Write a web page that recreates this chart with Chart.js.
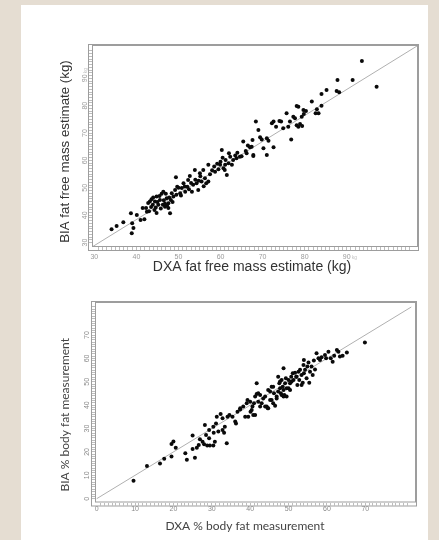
<!DOCTYPE html>
<html>
<head>
<meta charset="utf-8">
<script src="https://cdn.jsdelivr.net/npm/chart.js@4.4.1/dist/chart.umd.min.js"></script>
<style>
  html, body { margin: 0; padding: 0; width: 439px; height: 540px; overflow: hidden; background: #e5ddd2; }
  #panel { position: absolute; left: 21px; top: 5px; width: 407px; height: 535px; background: #fff; }
  #fat-free { position: absolute; left: 0; top: 0; }
  #body-fat { position: absolute; left: 0; top: 272px; }
</style>
</head>
<body>
<div id="panel">
  <canvas id="fat-free" width="407" height="272"></canvas>
  <canvas id="body-fat" width="407" height="263"></canvas>
</div>
<script>
// top panel: fat free mass (kg)
var fatFreeDxa = [
  34.1, 35.3, 36.9, 38.7, 39.0, 39.3, 38.9, 40.1, 41.0, 41.9, 41.5, 42.3, 42.5, 43.2, 43.6, 43.9, 44.3, 44.4,
  44.8, 45.2, 45.6, 46.0, 46.4, 46.3, 46.8, 47.2, 47.6, 48.0, 47.6, 48.2, 48.4, 48.8, 49.2, 49.4, 49.7, 50.4,
  50.8, 51.2, 51.6, 52.1, 52.3, 52.7, 53.2, 53.5, 53.9, 54.3, 54.7, 55.1, 55.5, 55.9, 56.3, 56.6, 57.1, 57.1,
  58.7, 59.5, 59.9, 60.3, 60.7, 61.1, 61.5, 61.9, 62.3, 62.7, 63.0, 63.8, 64.6, 65.4, 66.2, 67.4, 67.8,
  42.8, 43.5, 44.0, 45.0, 45.5, 46.5, 47.0, 47.8, 44.6, 45.8, 46.8, 43.0, 44.8, 47.3, 48.6, 49.5, 50.0, 50.6,
  51.5, 52.5, 53.0, 54.0, 54.8, 55.2, 56.0, 57.5, 58.0, 58.5, 59.2, 60.0, 60.5, 61.2, 62.0, 61.0, 63.5, 64.0,
  65.0, 66.0, 66.5,
  93.6, 97.1, 91.4, 87.8, 87.6, 88.2, 85.2, 84.0, 81.7, 84.0, 82.9, 83.3, 82.6, 79.7, 80.3, 78.5, 78.1, 79.8,
  79.3, 75.7, 77.3, 76.5, 77.7, 74.4, 74.0, 72.6, 72.2, 73.2, 74.9, 76.1, 78.1, 78.9, 79.4, 78.5, 68.4, 69.0,
  67.6, 69.4, 69.8, 71.0, 71.4, 76.8, 67.0, 70.2, 72.6, 71.0, 67.8
];
var fatFreeBia = [
  34.9, 36.1, 37.4, 40.7, 37.1, 35.3, 33.4, 40.1, 38.3, 38.5, 42.6, 42.6, 41.3, 45.0, 45.8, 43.8, 41.9, 45.0,
  46.8, 43.8, 45.6, 47.8, 48.6, 43.8, 43.1, 46.2, 44.4, 40.7, 42.6, 45.6, 48.0, 46.8, 49.2, 53.9, 50.4, 48.0,
  49.9, 51.7, 48.6, 50.4, 52.9, 54.3, 48.6, 51.1, 56.5, 51.7, 49.2, 55.3, 52.3, 56.5, 53.5, 51.7, 58.4, 52.3,
  55.9, 56.8, 58.4, 63.8, 57.2, 58.4, 54.7, 59.0, 61.4, 58.4, 60.2, 60.8, 61.4, 66.9, 62.6, 65.0, 62.0,
  44.5, 43.0, 46.5, 44.8, 47.0, 45.5, 47.8, 46.5, 42.8, 42.5, 44.2, 41.5, 40.8, 43.5, 44.8, 47.5, 50.0, 47.2,
  50.5, 49.5, 51.8, 53.0, 52.6, 54.2, 50.6, 55.0, 56.4, 57.8, 58.8, 59.5, 61.0, 60.2, 62.6, 56.5, 61.8, 62.8,
  61.5, 63.5, 65.5,
  96.3, 86.9, 89.4, 89.4, 85.4, 84.9, 85.7, 84.3, 81.5, 80.0, 78.7, 77.2, 77.2, 78.4, 78.1, 79.6, 79.9, 77.0,
  76.0, 77.2, 76.0, 74.2, 75.4, 74.2, 74.4, 74.2, 73.6, 72.3, 71.8, 72.3, 72.9, 73.3, 72.6, 72.3, 74.2, 71.1,
  67.5, 68.5, 67.7, 68.1, 67.2, 67.7, 64.8, 64.5, 64.8, 62.0, 61.6
];
var fatFreeLineX = [29.45, 106.7];
var fatFreeLineY = [28.4, 101.8];
var fatFreeTicks = [30, 40, 50, 60, 70, 80, 90];

// bottom panel: % body fat
var bodyFatDxa = [
  9.6, 13.1, 16.5, 17.6, 19.5, 20.0, 20.6, 19.5, 23.1, 23.5, 25.0, 25.6, 25.0, 26.1, 26.6, 26.9, 27.6, 28.0,
  28.2, 28.5, 28.8, 29.3, 29.3, 29.5, 30.4, 30.5, 30.4, 30.8, 31.1, 31.3, 31.7, 32.3, 32.8, 32.8, 33.2, 33.4,
  33.9, 34.1, 34.6, 35.4, 36.1, 36.3, 36.7, 37.4, 38.7, 39.1, 39.3, 39.5, 40.1, 40.6, 41.0, 41.3, 41.7, 41.7,
  42.1, 42.1, 42.6, 41.3, 43.0, 43.4, 43.9, 44.3, 44.6, 44.7, 45.2, 45.6, 46.0, 46.5, 46.2, 46.9, 47.3, 47.6,
  47.8, 48.0, 48.2, 48.5, 48.7, 48.7, 48.9, 49.1, 49.3, 49.5, 50.0, 50.4, 50.7, 51.1, 51.3, 51.7, 52.0, 52.3,
  52.6, 52.8, 53.0, 53.4, 53.7, 54.0, 54.3, 54.0, 54.7, 54.9, 55.2, 55.4, 55.6, 56.0, 56.3, 56.6, 56.9, 57.3,
  57.8, 58.2, 58.6, 59.5, 59.8, 60.4, 61.0, 61.5, 61.9, 62.6, 63.0, 63.4, 64.1, 65.2, 69.9,
  53.9, 52.1, 50.0, 50.8, 53.4, 47.8, 49.5, 50.4, 47.3, 48.2, 48.7, 46.9, 45.6, 43.9, 42.6, 40.0, 38.2, 37.4,
  40.4, 44.7, 46.0, 45.2, 40.8
];
var bodyFatBia = [
  7.7, 14.0, 15.0, 17.1, 23.4, 24.5, 21.8, 18.0, 19.4, 16.7, 27.0, 17.5, 21.3, 21.8, 23.0, 25.4, 24.4, 23.3,
  31.5, 27.2, 22.7, 29.4, 25.8, 22.7, 30.8, 28.2, 22.7, 24.4, 32.2, 35.1, 28.7, 36.2, 34.4, 29.4, 28.2, 30.8,
  23.7, 35.1, 35.8, 35.1, 33.0, 32.2, 37.2, 38.2, 35.1, 40.8, 42.2, 35.1, 37.2, 39.4, 40.8, 43.7, 44.8, 49.4,
  45.1, 41.5, 39.4, 35.8, 40.8, 42.9, 43.7, 39.4, 38.7, 46.5, 42.2, 47.9, 40.8, 39.7, 45.1, 42.9, 52.2, 49.4,
  47.2, 45.1, 50.8, 47.9, 55.8, 46.5, 44.4, 49.4, 51.5, 43.7, 47.2, 49.4, 52.2, 53.6, 50.8, 53.9, 52.2, 48.6,
  54.3, 50.8, 55.1, 52.9, 49.6, 53.6, 55.1, 59.3, 51.5, 56.5, 58.2, 49.6, 54.3, 56.5, 52.9, 59.1, 55.3, 62.2,
  60.1, 59.3, 60.5, 61.5, 60.1, 62.9, 60.1, 58.6, 61.1, 63.6, 62.9, 60.8, 61.1, 62.5, 66.8,
  57.2, 52.2, 50.8, 50.1, 48.6, 50.1, 47.2, 46.5, 45.8, 44.4, 43.7, 43.7, 42.2, 39.4, 44.4, 41.5, 39.4, 38.7,
  37.9, 38.7, 47.9, 45.8, 35.8
];
var bodyFatLineX = [0, 82];
var bodyFatLineY = [0, 82];
var bodyFatTicks = [0, 10, 20, 30, 40, 50, 60, 70];

function toPoints(xs, ys) {
  return xs.map(function (x, i) { return { x: x, y: ys[i] }; });
}

// double frame round the plot, tick labels and axis titles
// (y labels turned upright and titles a bit off centre, like the original)
var framePlugin = {
  id: 'frameLabels',
  afterDraw: function (chart, args, opts) {
    var ctx = chart.ctx;
    var a = chart.chartArea;
    var xs = chart.scales.x;
    var ys = chart.scales.y;
    ctx.save();
    ctx.strokeStyle = '#9d9d9d';
    ctx.lineWidth = 1;
    ctx.strokeRect(a.left - 3.5, a.top - 1.5, a.right - a.left + 5, a.bottom - a.top + 5);
    ctx.strokeRect(a.left + 0.5, a.top - 0.5, a.right - a.left, a.bottom - a.top);

    ctx.fillStyle = opts.color;
    ctx.font = opts.font;
    ctx.textBaseline = 'middle';
    opts.ticks.forEach(function (v) {
      var px = xs.getPixelForValue(v);
      var py = ys.getPixelForValue(v);
      var last = opts.unit && v === opts.ticks[opts.ticks.length - 1];
      ctx.textAlign = 'center';
      ctx.fillText(String(v), px, a.bottom + opts.xGap);
      if (last) {
        ctx.textAlign = 'left';
        ctx.font = opts.unitFont;
        ctx.fillStyle = '#c4c4c4';
        ctx.fillText(opts.unit, px + 5, a.bottom + opts.xGap + 0.5);
        ctx.font = opts.font;
        ctx.fillStyle = opts.color;
      }
      ctx.save();
      ctx.translate(a.left - opts.yGap, py);
      ctx.rotate(-Math.PI / 2);
      ctx.textAlign = 'center';
      ctx.fillText(String(v), 0, 0);
      if (last) {
        ctx.textAlign = 'left';
        ctx.font = opts.unitFont;
        ctx.fillStyle = '#c4c4c4';
        ctx.fillText(opts.unit, 5, 0.5);
      }
      ctx.restore();
    });

    var t = opts.titles;
    ctx.fillStyle = t.color;
    ctx.textAlign = 'center';
    ctx.font = t.xFont;
    ctx.fillText(t.x, (a.left + a.right) / 2 + t.xShift, a.bottom + t.xGap);
    ctx.translate(t.yLeft, (a.top + a.bottom) / 2 + t.yShift);
    ctx.rotate(-Math.PI / 2);
    ctx.font = t.yFont;
    ctx.fillText(t.y, 0, 0);
    ctx.restore();
  }
};

function wholeTicks(scale) {
  scale.ticks = scale.ticks.filter(function (t) { return Number.isInteger(t.value); });
}

function makeChart(id, cfg) {
  return new Chart(document.getElementById(id), {
    type: 'scatter',
    data: {
      datasets: [{
        data: toPoints(cfg.x, cfg.y),
        pointRadius: 2,
        pointBackgroundColor: '#0a0a0a',
        pointBorderWidth: 0
      }, {
        data: toPoints(cfg.lineX, cfg.lineY),
        showLine: true,
        pointRadius: 0,
        borderColor: '#b0b0b0',
        borderWidth: 1
      }]
    },
    options: {
      responsive: false,
      animation: false,
      events: [],
      layout: { padding: cfg.padding },
      plugins: {
        legend: { display: false },
        tooltip: { enabled: false },
        frameLabels: cfg.labels
      },
      scales: {
        x: {
          min: cfg.xMin,
          max: cfg.xMax,
          afterBuildTicks: wholeTicks,
          afterFit: function (scale) { scale.height = cfg.xHeight; },
          ticks: { stepSize: 1, display: false, autoSkip: false },
          grid: { drawOnChartArea: false, tickLength: 3, color: '#bdbdbd' },
          border: { display: false }
        },
        y: {
          min: cfg.yMin,
          max: cfg.yMax,
          afterBuildTicks: wholeTicks,
          afterFit: function (scale) { scale.width = cfg.yWidth; },
          ticks: { stepSize: 1, display: false, autoSkip: false },
          grid: { drawOnChartArea: false, tickLength: 3, color: '#bdbdbd' },
          border: { display: false }
        }
      }
    },
    plugins: [framePlugin]
  });
}

var fatFreeChart = makeChart('fat-free', {
  x: fatFreeDxa, y: fatFreeBia, lineX: fatFreeLineX, lineY: fatFreeLineY,
  xMin: 29.45, xMax: 106.7, yMin: 28.4, yMax: 101.8,
  padding: { left: 36, top: 41, right: 11, bottom: 0 },
  xHeight: 30, yWidth: 35,
  labels: {
    ticks: fatFreeTicks, unit: 'kg', font: '7px Liberation Sans', unitFont: '5px Liberation Sans',
    color: '#9a9a9a', xGap: 10, yGap: 7,
    titles: {
      x: 'DXA fat free mass estimate (kg)', y: 'BIA fat free mass estimate (kg)',
      color: '#333', xFont: '14px Liberation Sans', yFont: '13.3px Liberation Sans',
      xShift: -2.5, xGap: 20, yLeft: 44, yShift: 5
    }
  }
});

var bodyFatChart = makeChart('body-fat', {
  x: bodyFatDxa, y: bodyFatBia, lineX: bodyFatLineX, lineY: bodyFatLineY,
  xMin: -0.44, xMax: 82.96, yMin: -1.63, yMax: 83.7,
  padding: { left: 36.5, top: 26, right: 13, bottom: 0 },
  xHeight: 37.5, yWidth: 37.5,
  labels: {
    ticks: bodyFatTicks, unit: null, font: '7px Liberation Sans', unitFont: '5px Liberation Sans',
    color: '#8a8a8a', xGap: 7, yGap: 8,
    titles: {
      x: 'DXA % body fat measurement', y: 'BIA % body fat measurement',
      color: '#444', xFont: '12px Lato', yFont: '12px Lato',
      xShift: -10, xGap: 23.5, yLeft: 44, yShift: 12
    }
  }
});
</script>
</body>
</html>
